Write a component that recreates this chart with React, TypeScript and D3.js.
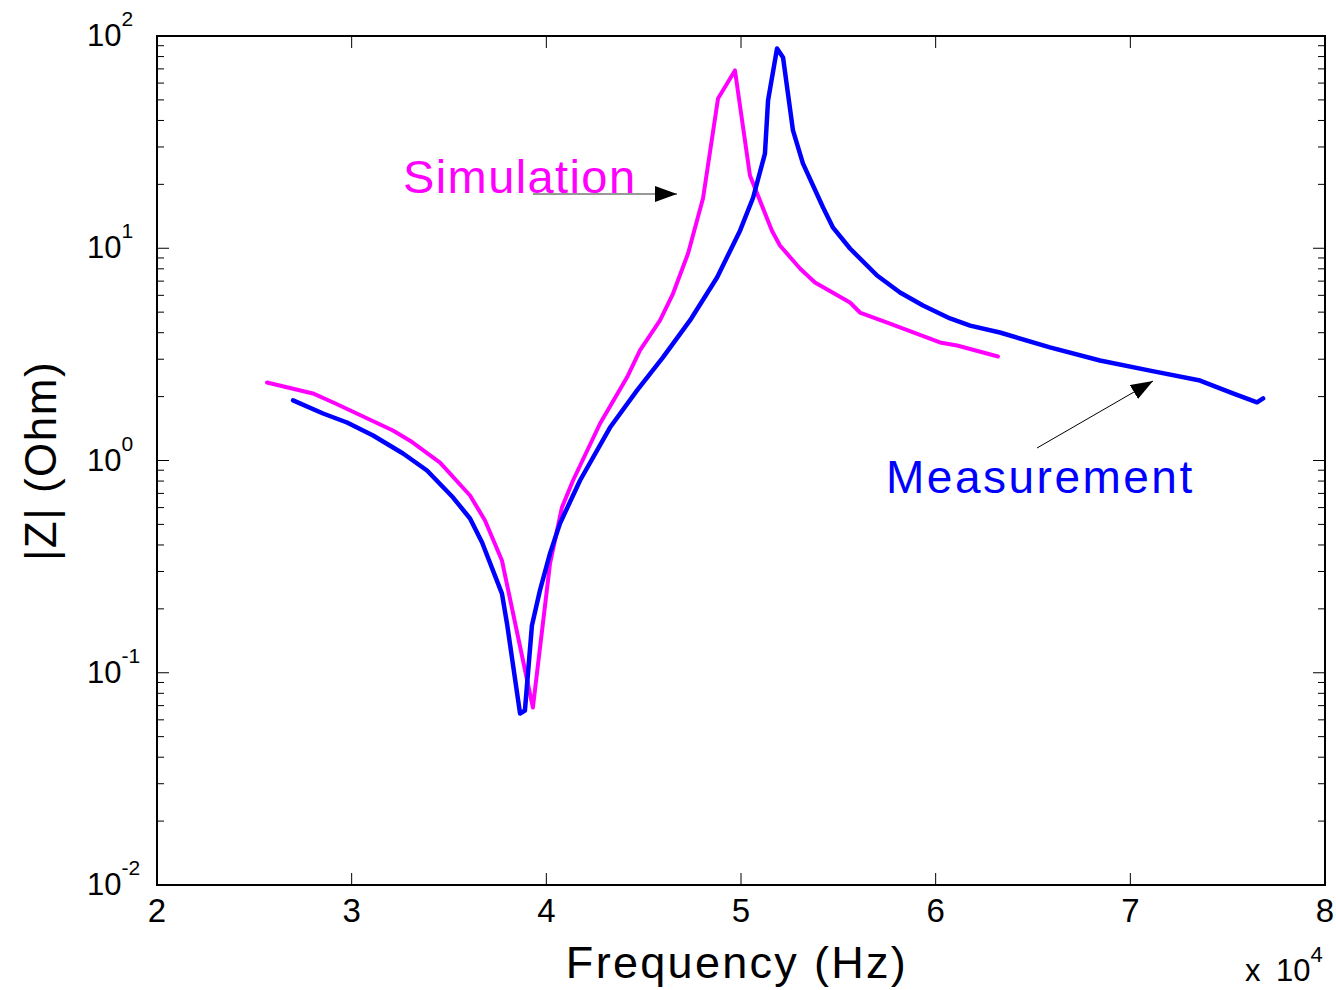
import React from "react";
import * as d3 from "d3";

// Simulated impedance magnitude |Z| (Ohm) vs. frequency (Hz)
const simFreq = [
  25650, 28010, 29140, 32120, 33000, 34540, 36080, 36850, 37720, 39310,
  40190, 40800, 41370, 42760, 44140, 44810, 45840, 46510, 47280, 47740,
  48050, 48820, 49690, 50460, 51590, 52000, 53030, 53800, 55600, 56110,
  57650, 60220, 61100, 63200,
];
const simZ = [
  2.33, 2.07, 1.86, 1.385, 1.24, 0.978, 0.684, 0.522, 0.338, 0.0686,
  0.327, 0.601, 0.805, 1.494, 2.46, 3.3, 4.57, 6.12, 9.45, 13.5,
  17.2, 50.8, 68.8, 22.0, 12.1, 10.3, 8.03, 6.9, 5.55, 4.98,
  4.42, 3.6, 3.48, 3.09,
];

// Measured impedance magnitude |Z| (Ohm) vs. frequency (Hz)
const measFreq = [
  26990, 28530, 29760, 31100, 32640, 33870, 35210, 36080, 36700, 37720,
  37980, 38650, 38900, 39260, 39670, 40190, 40700, 41730, 43270, 44660,
  45990, 47380, 48770, 49950, 50620, 51230, 51390, 51850, 52160, 52670,
  53180, 54210, 54730, 55600, 56990, 58170, 59350, 60740, 61770, 63300,
  65870, 68440, 71010, 73580, 75270, 76510, 76820,
];
const measZ = [
  1.92, 1.665, 1.51, 1.311, 1.079, 0.897, 0.669, 0.533, 0.411, 0.236,
  0.1706, 0.0643, 0.0664, 0.167, 0.244, 0.365, 0.505, 0.805, 1.43, 2.14,
  3.06, 4.57, 7.28, 12.1, 17.3, 27.9, 49.7, 87.3, 79.2, 35.9,
  25.1, 15.6, 12.5, 9.97, 7.44, 6.19, 5.37, 4.67, 4.32, 4.01,
  3.41, 2.96, 2.65, 2.38, 2.07, 1.88, 1.96,
];

const xTicks = [20000, 30000, 40000, 50000, 60000, 70000, 80000];
const xTickLabels = ["2", "3", "4", "5", "6", "7", "8"];
const yDecades = [0.01, 0.1, 1, 10, 100];
const yExponents = ["-2", "-1", "0", "1", "2"];

const FONT = "'Liberation Sans', Arial, Helvetica, sans-serif";

export default function App() {
  const left = 157, right = 1325, top = 36, bottom = 885;
  const x = d3.scaleLinear().domain([20000, 80000]).range([left, right]);
  const y = d3.scaleLog().domain([0.01, 100]).range([bottom, top]);

  const line = d3
    .line<[number, number]>()
    .x((d) => x(d[0]))
    .y((d) => y(d[1]));

  const simPath = line(simFreq.map((f, i) => [f, simZ[i]]) as [number, number][]) || "";
  const measPath = line(measFreq.map((f, i) => [f, measZ[i]]) as [number, number][]) || "";

  // minor ticks 2..9 within each decade
  const minor: number[] = [];
  for (let k = 0; k < yDecades.length - 1; k++) {
    for (let m = 2; m <= 9; m++) minor.push(yDecades[k] * m);
  }

  const majorLen = 12;
  const minorLen = 7;

  return (
    <svg
      width={1336}
      height={990}
      style={{ position: "absolute", left: 0, top: 0, background: "#fff" }}
      fontFamily={FONT}
    >
      <defs>
        <marker id="arrowHead" viewBox="0 0 22 16" refX="22" refY="8" markerWidth="22" markerHeight="16" markerUnits="userSpaceOnUse" orient="auto">
          <path d="M0,0 L22,8 L0,16 Z" fill="#000" />
        </marker>
      </defs>
      <rect x={0} y={0} width={1336} height={990} fill="#fff" />

      {/* x ticks (top and bottom, inward) */}
      {xTicks.map((t, i) => (
        <g key={"xt" + i}>
          <line x1={x(t)} x2={x(t)} y1={bottom} y2={bottom - majorLen} stroke="#000" strokeWidth={1} />
          <line x1={x(t)} x2={x(t)} y1={top} y2={top + majorLen} stroke="#000" strokeWidth={1} />
          <text x={x(t)} y={922} textAnchor="middle" fontSize={33} fill="#000">
            {xTickLabels[i]}
          </text>
        </g>
      ))}

      {/* y major ticks and labels */}
      {yDecades.map((v, i) => (
        <g key={"yt" + i}>
          <line x1={left} x2={left + majorLen} y1={y(v)} y2={y(v)} stroke="#000" strokeWidth={1} />
          <line x1={right} x2={right - majorLen} y1={y(v)} y2={y(v)} stroke="#000" strokeWidth={1} />
          <text x={87} y={y(v) + 10} textAnchor="start" fill="#000">
            <tspan fontSize={31}>10</tspan>
            <tspan fontSize={21} dy={-20}>{yExponents[i]}</tspan>
          </text>
        </g>
      ))}
      {minor.map((v, i) => (
        <g key={"ym" + i}>
          <line x1={left} x2={left + minorLen} y1={y(v)} y2={y(v)} stroke="#000" strokeWidth={1} />
          <line x1={right} x2={right - minorLen} y1={y(v)} y2={y(v)} stroke="#000" strokeWidth={1} />
        </g>
      ))}

      {/* axes frame */}
      <rect x={left} y={top} width={right - left} height={bottom - top} fill="none" stroke="#000" strokeWidth={2} />

      {/* data */}
      <path d={simPath} fill="none" stroke="#ff00ff" strokeWidth={4} strokeLinejoin="round" strokeLinecap="round" />
      <path d={measPath} fill="none" stroke="#0000ff" strokeWidth={4.5} strokeLinejoin="round" strokeLinecap="round" />

      {/* annotations */}
      <text x={403} y={193} fontSize={47} fill="#ff00ff" letterSpacing={1.4}>Simulation</text>
      <line x1={533} y1={194} x2={677} y2={194} stroke="#333" strokeWidth={1} markerEnd="url(#arrowHead)" />
      <text x={886} y={493} fontSize={46} fill="#0000ff" letterSpacing={2.5}>Measurement</text>
      <line x1={1037} y1={448} x2={1153} y2={381} stroke="#000" strokeWidth={1} markerEnd="url(#arrowHead)" />

      {/* axis labels */}
      <text x={737} y={978} textAnchor="middle" fontSize={45} letterSpacing={2.3} fill="#000">
        Frequency (Hz)
      </text>
      <text transform="translate(56,461) rotate(-90)" textAnchor="middle" fontSize={44} letterSpacing={1.5} fill="#000">
        |Z| (Ohm)
      </text>
      <text x={1245} y={981} fontSize={31} fill="#000">x</text>
      <text x={1276} y={981} fill="#000">
        <tspan fontSize={31}>10</tspan>
        <tspan fontSize={22} dy={-19}>4</tspan>
      </text>
    </svg>
  );
}
